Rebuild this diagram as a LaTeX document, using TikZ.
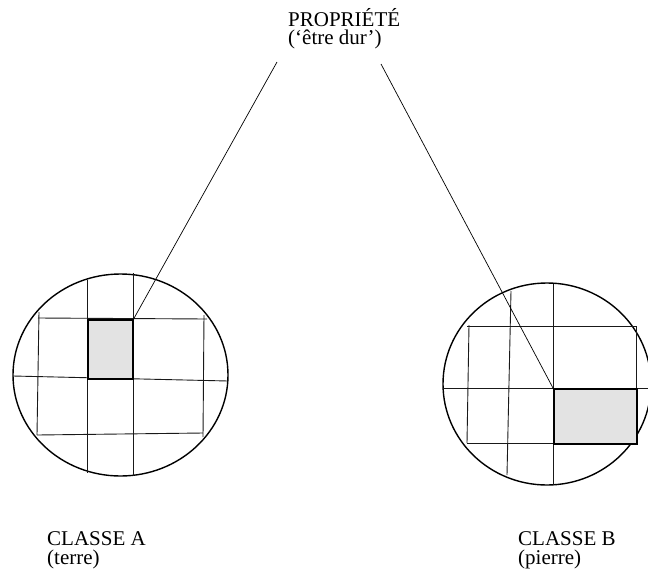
\documentclass[tikz,border=0pt]{standalone}
\usepackage{fontspec}
\setmainfont{Liberation Serif}
\begin{document}
\begin{tikzpicture}[x=1pt,y=-1pt]
  % Define styles for nodes and lines
  \tikzstyle{txt} = [anchor=base west, inner sep=0pt, align=left]
  \tikzstyle{zone} = [anchor=north west, draw, rectangle, inner sep=0pt,
  line width=1.6pt, fill=gray!22]
  \tikzstyle{grid} = [line width=0.9pt, black!90]
  \tikzstyle{world} = [line width=1.4pt]

  \useasboundingbox (0,0) rectangle (648,571);

  % Left circle (classe A)
  \draw[world] (120.5,375) ellipse [x radius=107.5pt, y radius=101pt];
  \draw[grid] (39,312) -- (37,435);
  \draw[grid] (87,280) -- (87,473);
  \draw[grid] (133,273) -- (133,476);
  \draw[grid] (204,315) -- (203,437);
  \draw[grid] (38,318) -- (207,319);
  \draw[grid] (13,376) -- (228,381);
  \draw[grid] (37,435) -- (203,433);
  \node[zone, minimum width=45pt, minimum height=59pt] (zoneA) at (87,319) {};

  % Right circle (classe B)
  \draw[world] (547,384) ellipse [x radius=104pt, y radius=101pt];
  \draw[grid] (469,325) -- (467,443);
  \draw[grid] (511,291) -- (507,475);
  \draw[grid] (553,284) -- (553,485);
  \draw[grid] (636,326) -- (636,443);
  \draw[grid] (467,326) -- (636,326);
  \draw[grid] (443,388) -- (650,388);
  \draw[grid] (467,443) -- (636,443);
  \node[zone, minimum width=83pt, minimum height=55pt] (zoneB) at (553,388) {};

  % Connections to the property
  \coordinate (topA) at (277,62);
  \coordinate (topB) at (381,64);
  \draw[line width=0.7pt] (zoneA.north east) -- (topA);
  \draw[line width=0.7pt] (zoneB.north west) -- (topB);

  % Labels
  \node[txt, font=\fontsize{21}{18.5}\selectfont] (prop) at (288,44.5)
  {PROPRIÉTÉ\\(‘être dur’)};
  \node[txt, font=\fontsize{21}{19}\selectfont] (classA) at (47,564)
  {CLASSE A\\(terre)};
  \node[txt, font=\fontsize{21}{19}\selectfont] (classB) at (518,564)
  {CLASSE B\\(pierre)};
\end{tikzpicture}
\end{document}
